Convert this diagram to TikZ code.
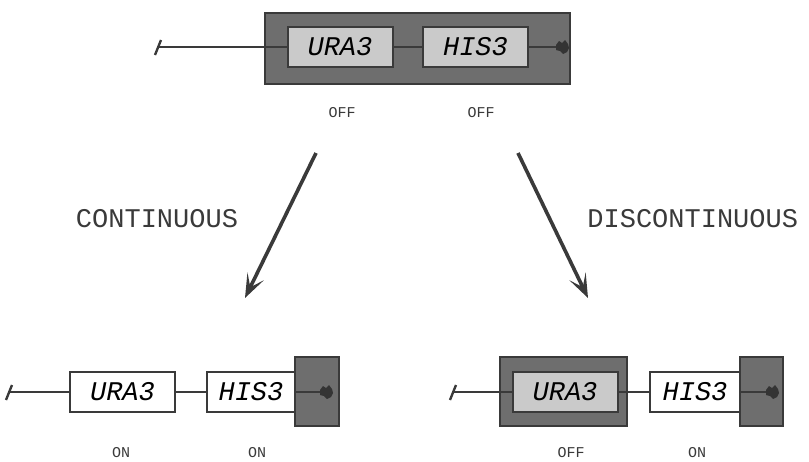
\documentclass[tikz,border=0pt]{standalone}
\usepackage{fontspec}
\setmainfont{Liberation Serif}
\newfontfamily\genefont{Liberation Mono}
\usetikzlibrary{positioning,arrows.meta}
\definecolor{chromgray}{HTML}{6E6E6E}
\definecolor{genegray}{HTML}{CACACA}
\definecolor{inkgray}{HTML}{3A3A3A}

\tikzset{
  silenced/.style={draw=inkgray, line width=1pt, fill=chromgray, inner sep=0pt},
  gene/.style={draw=inkgray, line width=1pt, fill=white, inner sep=0pt,
               minimum width=52.5pt, minimum height=20pt,
               font=\genefont\fontsize{13.5}{14}\selectfont\itshape},
  geneoff/.style={gene, fill=genegray},
  state/.style={font=\genefont\fontsize{7.5}{8}\selectfont, inner sep=0pt, text=inkgray},
  mode/.style={font=\genefont\fontsize{13.5}{14}\selectfont, inner sep=0pt, text=inkgray},
  dna/.style={draw=inkgray, line width=1pt},
  branch/.style={draw=inkgray, line width=1.8pt,
                 -{Stealth[length=12pt, width=9pt, inset=6pt]}},
  cutend/.pic={\draw[inkgray, line width=1.2pt] (-2,8) -- (4,-7);},
  telomere/.pic={\fill[inkgray!90!black] (-7,-2) -- (-4,-6) -- (-1,-4) -- (2,-7)
                 -- (5,-3) -- (6,1) -- (4,5) -- (0,7) -- (-3,4) -- (-7,3) -- cycle;},
}

\begin{document}
\begin{tikzpicture}[x=0.5pt, y=-0.5pt]
  \useasboundingbox (0,0) rectangle (809,461);

  % starting locus: both markers inside silent chromatin
  \node[silenced, minimum width=152.5pt, minimum height=35.5pt] (topbox) at (417.5,48.5) {};
  \node[geneoff] (topura) at (340,47) {URA3};
  \node[geneoff] (tophis) at (475.5,47) {HIS3};
  \coordinate (topend) at (157,47);
  \coordinate (toptel) at (563,47);
  \draw[dna] (topend) -- (topura);
  \draw[dna] (topura) -- (tophis);
  \draw[dna] (tophis) -- (toptel);
  \pic at (topend) {cutend};
  \pic at (toptel) {telomere};
  \node[state] (topuraoff) at (342,113) {OFF};
  \node[state] (tophisoff) at (481,113) {OFF};

  % the two outcomes
  \coordinate (contstart) at (316,153);
  \coordinate (contstop)  at (245,298);
  \coordinate (discstart) at (518,153);
  \coordinate (discstop)  at (588,298);
  \draw[branch] (contstart) -- (contstop);
  \draw[branch] (discstart) -- (discstop);
  \node[mode] (contlabel) at (157,219) {CONTINUOUS};
  \node[mode, anchor=west] (disclabel) at (587,219) {DISCONTINUOUS};

  % continuous spreading: only the telomere end stays silent
  \node[silenced, minimum width=22pt, minimum height=34.5pt] (contbox) at (317,391.5) {};
  \node[gene] (contura) at (122.5,392) {URA3};
  \node[gene, minimum width=44pt] (conthis) at (251,392) {HIS3};
  \coordinate (contend) at (8,392);
  \coordinate (conttel) at (327,392);
  \draw[dna] (contend) -- (contura);
  \draw[dna] (contura) -- (conthis);
  \draw[dna] (conthis) -- (conttel);
  \pic at (contend) {cutend};
  \pic at (conttel) {telomere};
  \node[state] (conturaon) at (121,453) {ON};
  \node[state] (conthison) at (257,453) {ON};

  % discontinuous: URA3 silent, HIS3 expressed
  \node[silenced, minimum width=63.5pt, minimum height=34.5pt] (discbox) at (563.5,391.5) {};
  \node[silenced, minimum width=21.5pt, minimum height=34.5pt] (disctelbox) at (761.5,391.5) {};
  \node[geneoff] (discura) at (565,392) {URA3};
  \node[gene, minimum width=45pt] (dischis) at (695,392) {HIS3};
  \coordinate (discend) at (452,392);
  \coordinate (disctel) at (773,392);
  \draw[dna] (discend) -- (discura);
  \draw[dna] (discura) -- (dischis);
  \draw[dna] (dischis) -- (disctel);
  \pic at (discend) {cutend};
  \pic at (disctel) {telomere};
  \node[state] (discuraoff) at (571,453) {OFF};
  \node[state] (dischison) at (697,453) {ON};
\end{tikzpicture}
\end{document}
